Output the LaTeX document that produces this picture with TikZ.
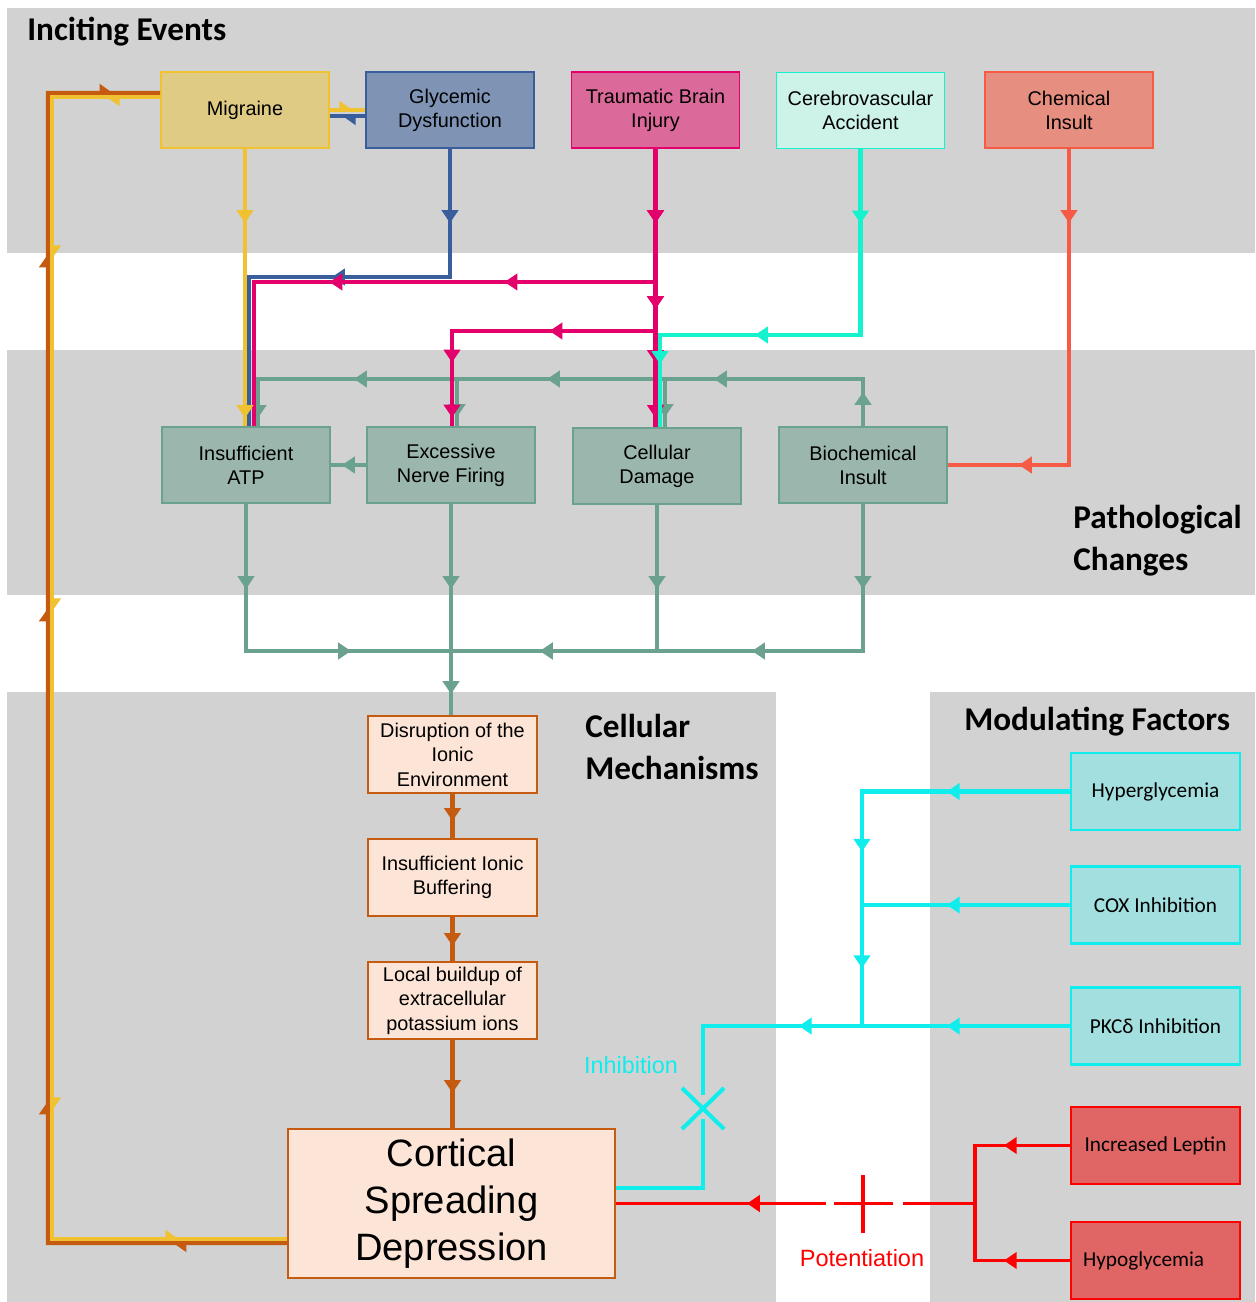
\documentclass[tikz,border=0pt]{standalone}
\usepackage{fontspec}
\setmainfont{Liberation Sans}
\newfontfamily\calfont{Carlito}
\usetikzlibrary{arrows.meta,decorations.markings,calc}
\definecolor{bgg}{HTML}{D2D2D2}
\definecolor{ylw}{HTML}{F0C232}
\definecolor{migfill}{HTML}{DFCB84}
\definecolor{blu}{HTML}{3A5D9C}
\definecolor{glyfill}{HTML}{7F94B5}
\definecolor{mag}{HTML}{E3006B}
\definecolor{tbifill}{HTML}{DB6A9B}
\definecolor{aqu}{HTML}{17F2CE}
\definecolor{cvafill}{HTML}{CDF2E8}
\definecolor{chm}{HTML}{F55B45}
\definecolor{chemfill}{HTML}{E68E80}
\definecolor{grn}{HTML}{6BA28F}
\definecolor{patfill}{HTML}{9BB7AD}
\definecolor{brn}{HTML}{C55A11}
\definecolor{celfill}{HTML}{FCE4D6}
\definecolor{cyn}{HTML}{0FEDED}
\definecolor{modfill}{HTML}{A3DFDF}
\definecolor{rd}{HTML}{FF0000}
\definecolor{redfill}{HTML}{E06666}
\tikzset{
  box/.style={draw, line width=1.1pt, minimum width=3.36cm, minimum height=1.52cm, inner sep=0pt, align=center, font=\fontsize{11.3}{13.6}\selectfont},
  cbox/.style={box, draw=brn, fill=celfill, minimum width=3.38cm, minimum height=1.54cm, font=\fontsize{11.3}{13.9}\selectfont},
  mbox/.style={box, line width=1.3pt, minimum width=3.38cm, minimum height=1.54cm, font=\calfont\fontsize{12.1}{14}\selectfont},
  ttl/.style={font=\calfont\bfseries\fontsize{18.9}{23.8}\selectfont, align=left, inner sep=0pt},
  am/.style={postaction={solid,decorate,decoration={markings,mark=at position #1*0.02cm with {\arrow{Triangle[length=7.3pt,width=9.3pt]}}}}},
  ah/.style={postaction={solid,decorate,decoration={markings,mark=at position #1*0.02cm with {\arrow{Triangle[harpoon,length=7.5pt,width=10pt]}}}}},
  gline/.style={draw=grn, line width=1.8pt},
  mline/.style={draw=mag, line width=2.3pt},
  blline/.style={draw=blu, line width=2.3pt},
  yline/.style={draw=ylw, line width=2.1pt},
  aline/.style={draw=aqu, line width=2.3pt},
  cline/.style={draw=chm, line width=2pt},
  bline/.style={draw=brn, line width=2.3pt},
  brline/.style={draw=brn, line width=2.3pt},
  cyline/.style={draw=cyn, line width=2.3pt},
  rline/.style={draw=rd, line width=2pt},
}
\begin{document}
\begin{tikzpicture}[x=0.02cm,y=-0.02cm]
\useasboundingbox (0,0) rectangle (1255,1302);
\fill[white] (0,0) rectangle (1255,1302);
% bands
\fill[bgg] (7,8) rectangle (1255,253);
\fill[bgg] (7,350) rectangle (1255,595);
\fill[bgg] (7,692) rectangle (776,1302);
\fill[bgg] (930,692) rectangle (1255,1302);
% titles
\node[ttl, anchor=west] (t1) at (27,32) {Inciting Events};
\node[ttl, anchor=west] (t2) at (1073,541) {Pathological\\Changes};
\node[ttl, anchor=west] (t3) at (585,747) {Cellular\\Mechanisms};
\node[ttl, anchor=west] (t4) at (964,722) {Modulating Factors};
% nodes
\node[box, draw=ylw, fill=migfill] (mig) at (245,110) {Migraine};
\node[box, draw=blu, fill=glyfill] (gly) at (450,110) {Glycemic\\Dysfunction};
\node[box, draw=mag, fill=tbifill] (tbi) at (655.5,110) {Traumatic Brain\\Injury};
\node[box, draw=aqu, fill=cvafill] (cva) at (860.5,110.5) {Cerebrovascular\\Accident};
\node[box, draw=chm, fill=chemfill] (chem) at (1069,110) {Chemical\\Insult};
\node[box, draw=grn, fill=patfill] (atp) at (246,465) {Insufficient\\ATP};
\node[box, draw=grn, fill=patfill] (enf) at (451,465) {Excessive\\Nerve Firing};
\node[box, draw=grn, fill=patfill] (cd) at (657,466) {Cellular\\Damage};
\node[box, draw=grn, fill=patfill] (bi) at (863,465) {Biochemical\\Insult};
\node[cbox] (dis) at (452.5,754.5) {Disruption of the\\Ionic\\Environment};
\node[cbox] (buf) at (452.5,877.5) {Insufficient Ionic\\Buffering};
\node[cbox] (loc) at (452.5,1000.5) {Local buildup of\\extracellular\\potassium ions};
\node[cbox, line width=1.4pt, minimum width=6.54cm, minimum height=2.98cm, font=\fontsize{21.7}{26.6}\selectfont] (csd) at (451.5,1203.5) {Cortical\\Spreading\\Depression};
\node[mbox, draw=cyn, fill=modfill] (hyper) at (1155.5,791.5) {Hyperglycemia};
\node[mbox, draw=cyn, fill=modfill] (cox) at (1155.5,905) {COX Inhibition};
\node[mbox, draw=cyn, fill=modfill] (pkc) at (1155.5,1026) {PKCδ Inhibition};
\node[mbox, draw=rd, fill=redfill] (lep) at (1155.5,1145.5) {Increased Leptin};
\node[mbox, draw=rd, fill=redfill] (hypo) at (1155.5,1260.5) {\makebox[2.9cm][l]{Hypoglycemia}};
% junction coordinates
\coordinate (gfb) at (863,379);
\coordinate (genf) at (457,379);
\coordinate (gcd) at (665,379);
\coordinate (gj) at (451,651);
\coordinate (rj) at (975,1203.5);
% green connectors
\draw[gline, am=34, am=196, am=363, am=556, am=691] (bi.north) -- (gfb) -- (258,379) -- ($(atp.north)+(12,0)$);
\draw[gline, am=38] (genf) -- ($(enf.north)+(6,0)$);
\draw[gline, am=38] (gcd) -- ($(cd.north)+(8,0)$);
\draw[gline, am=24] (enf.west) -- (atp.east);
\draw[gline, am=85, am=252] (atp.south) -- (atp.south |- gj) -- (gj);
\draw[gline, am=84, am=263] (cd.south) -- (cd.south |- gj) -- (gj);
\draw[gline, am=85, am=258, am=470] (bi.south) -- (bi.south |- gj) -- (gj);
\draw[gline, am=85, am=190] (enf.south) -- (enf.south |- dis.north);
% brown chain
\draw[bline, am=27] (dis.south) -- (buf.north);
\draw[bline, am=29] (buf.south) -- (loc.north);
\draw[bline, am=53] (loc.south) -- (loc.south |- csd.north);
% blue
\draw[blline, am=74, am=246] (gly.south) -- (450,277) -- (249,277) -- ($(atp.north)+(3,0)$);
% magenta
\draw[mline, am=74, am=284, am=459] (tbi.south) -- (655.5,282) -- (254,282) -- ($(atp.north)+(8,0)$);
\draw[mline, am=74, am=160, am=288, am=417, am=472] (tbi.south) -- (655.5,331) -- (452,331) -- ($(enf.north)+(1,0)$);
\draw[mline, am=74, am=160, am=214, am=269] (tbi.south) -- (tbi.south |- cd.north);
% yellow
\draw[yline, am=74, am=269] (mig.south) -- (mig.south |- atp.north);
% cva
\draw[aline, am=74, am=291, am=415] (cva.south) -- (860.5,335) -- (660,335) -- ($(cd.north)+(3,0)$);
% chemical
\draw[cline, am=74, am=366] (chem.south) -- (chem.south |- bi.east) -- (bi.east);
% loop
\draw[brline, ah=116, ah=383, ah=876, ah=1230, ah=1456] ($(csd.west)+(0,39.5)$) -- (48,1243) -- (48,93) -- ($(mig.west)+(0,-17)$);
\draw[yline, ah=56, ah=272, ah=625, ah=1124, ah=1379] ($(mig.west)+(0,-13)$) -- (52,97) -- (52,1239) -- ($(csd.west)+(0,35.5)$);
\draw[yline, ah=25] (mig.east) -- (gly.west);
\draw[blline, ah=25] ($(gly.west)+(0,6)$) -- ($(mig.east)+(0,6)$);
% modulating cyan
\draw[cyline, am=123, am=268] (hyper.west) -- (862,791.5) -- (862,1026);
\draw[cyline, am=123, am=271] (cox.west) -- (862,905) -- (862,1026);
\draw[cyline, dash pattern=on 248.3pt off 13.6pt on 400pt, am=123, am=271] (pkc.west) -- (703,1026) -- (703,1188) -- ($(csd.east)+(0,-15.5)$);
\draw[cyline] (682,1088) -- (724,1129) (682,1129) -- (724,1088);
\node[text=cyn, font=\fontsize{13.3}{15}\selectfont, inner sep=0pt] (inh) at (631,1065) {Inhibition};
% red
\draw[rline, am=66] (lep.west) -- (lep.west -| rj) -- (rj);
\draw[rline, am=66] (hypo.west) -- (hypo.west -| rj) -- (rj);
\draw[rline, dash pattern=on 40.8pt off 5.7pt on 34pt off 4.5pt on 300pt, am=228] (rj) -- (csd.east);
\draw[rline] (863,1175) -- (863,1233);
\node[text=rd, font=\fontsize{13.4}{15}\selectfont, inner sep=0pt] (pot) at (862,1258) {Potentiation};
\end{tikzpicture}
\end{document}
